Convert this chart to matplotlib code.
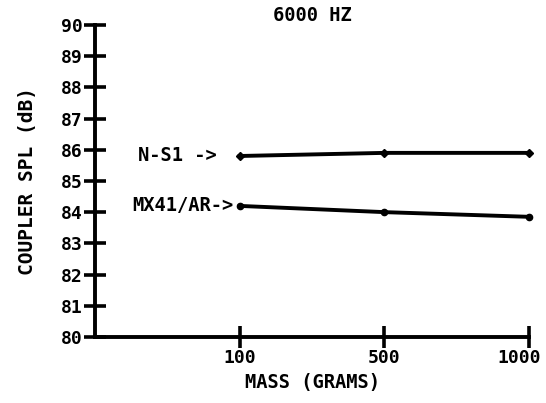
import matplotlib
matplotlib.use("Agg")
import matplotlib.pyplot as plt
import matplotlib.transforms as mtransforms

# data
mass_labels = ["100", "500", "1000"]
ns1_spl = [85.8, 85.9, 85.9]
mx41_spl = [84.2, 84.0, 83.85]
y_ticks = [80, 81, 82, 83, 84, 85, 86, 87, 88, 89, 90]

x_pos = [1, 2, 3]

plt.rcParams['font.family'] = ['DejaVu Sans Mono']
plt.rcParams['font.weight'] = 'bold'

fig = plt.figure(figsize=(5.46, 4.03), dpi=100)
ax = fig.add_axes([0.174, 0.164, 0.795, 0.774])

ax.plot(x_pos, ns1_spl, color="black", linewidth=2.8, marker="D", markersize=4.5,
        clip_on=False)
ax.plot(x_pos, mx41_spl, color="black", linewidth=2.8, marker="o", markersize=4.5,
        clip_on=False)

# curve labels, right next to the first point
ax.text(x_pos[0] - 0.16, ns1_spl[0], "N-S1 ->", ha="right", va="center",
        fontsize=13.5, fontweight="bold")
ax.text(x_pos[0] - 0.04, mx41_spl[0], "MX41/AR->", ha="right", va="center",
        fontsize=13.5, fontweight="bold")

ax.set_xlim(0, 3)
ax.set_ylim(80, 90)
ax.set_xticks(x_pos)
ax.set_xticklabels(mass_labels)
ax.set_yticks(y_ticks)
ax.set_yticklabels([str(v) for v in y_ticks])

for side in ["top", "right"]:
    ax.spines[side].set_visible(False)
for side in ["left", "bottom"]:
    ax.spines[side].set_linewidth(2.8)

ax.tick_params(direction="inout", length=16, width=2.6, labelsize=13, pad=1)
for lab in ax.get_xticklabels() + ax.get_yticklabels():
    lab.set_fontweight("bold")

# last x label sits a little left of its tick, as in the scan
last = ax.get_xticklabels()[-1]
last.set_transform(last.get_transform() +
                   mtransforms.ScaledTranslation(-10 / 100, 0, fig.dpi_scale_trans))

ax.set_title("6000 HZ", fontsize=13.5, fontweight="bold", pad=2)
ax.set_xlabel("MASS (GRAMS)", fontsize=13.5, fontweight="bold", labelpad=4)
ax.set_ylabel("COUPLER SPL (dB)", fontsize=14, fontweight="bold", labelpad=17)

plt.savefig("out.png", dpi=100)
plt.close()
